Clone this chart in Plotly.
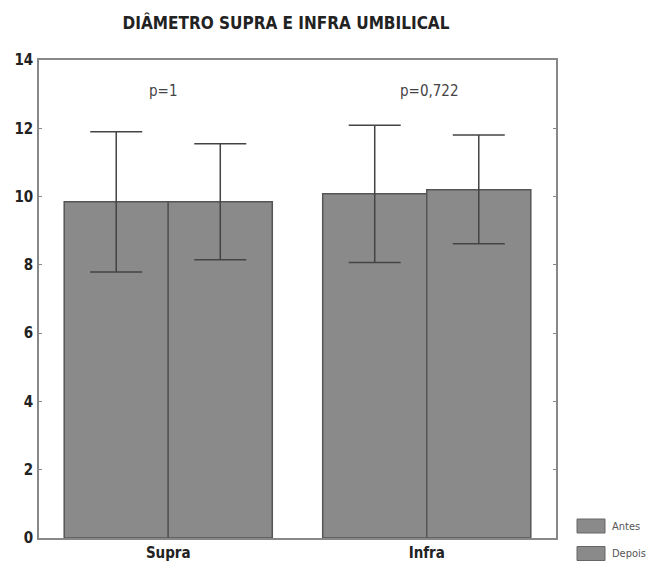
import plotly.graph_objects as go

categories = ["Supra", "Infra"]
series_names = ["Antes", "Depois"]
antes_mean = [9.85, 10.08]
antes_err_plus = [2.05, 2.01]
antes_err_minus = [2.06, 2.01]
depois_mean = [9.85, 10.20]
depois_err_plus = [1.70, 1.60]
depois_err_minus = [1.70, 1.58]
p_labels = ["p=1", "p=0,722"]
y_ticks = [0, 2, 4, 6, 8, 10, 12, 14]

FONT = "Liberation Sans Narrow, DejaVu Sans Condensed, Arial Narrow, sans-serif"
BAR_FILL = "#8a8a8a"
BAR_LINE = "#555555"
ERR_COLOR = "#444444"

# page body has an 8px margin; figure is sized/offset to compensate
OFF = 8
W, H = 658 - OFF, 569 - OFF
PL, PR, PT, PB = 39 - OFF, 556 - OFF, 60 - OFF, 538 - OFF  # plot area in figure px
PW, PH = PR - PL, PB - PT

fig = go.Figure()
for name, mean, ep, em in [
    ("Antes", antes_mean, antes_err_plus, antes_err_minus),
    ("Depois", depois_mean, depois_err_plus, depois_err_minus),
]:
    fig.add_trace(go.Bar(
        x=categories, y=mean, name=name,
        marker=dict(color=BAR_FILL, line=dict(color=BAR_LINE, width=1.5)),
        error_y=dict(type="data", array=ep, arrayminus=em, symmetric=False,
                     color=ERR_COLOR, thickness=1.5, width=26),
        showlegend=False,
    ))

annotations = []
for cat, lab in zip(categories, p_labels):
    annotations.append(dict(x=cat, y=13.1, xref="x", yref="y", text=lab,
                            showarrow=False, xshift=-5 if lab == "p=1" else 3,
                            font=dict(family=FONT, size=15, color="#444444")))

# legend drawn as boxes + text (page px coordinates)
shapes = []
legend_rows = [(526, "Antes"), (553.5, "Depois")]
for ypx, name in legend_rows:
    yc = ypx - OFF
    y0 = (PB - (yc + 7)) / PH
    y1 = (PB - (yc - 7)) / PH
    x0 = (577 - OFF - PL) / PW
    x1 = (605 - OFF - PL) / PW
    shapes.append(dict(type="rect", xref="paper", yref="paper", x0=x0, x1=x1, y0=y0, y1=y1,
                       fillcolor=BAR_FILL, line=dict(color="#666666", width=1)))
    annotations.append(dict(x=(610 - OFF - PL) / PW, y=(PB - yc) / PH, xref="paper", yref="paper",
                            text=name, showarrow=False, xanchor="left", yanchor="middle",
                            font=dict(family=FONT, size=11, color="#555555")))

fig.update_layout(
    width=W, height=H,
    margin=dict(l=PL, r=W - PR, t=PT, b=H - PB),
    paper_bgcolor="white", plot_bgcolor="white",
    barmode="group", bargap=0.195, bargroupgap=0,
    title=dict(text="<b>DIÂMETRO SUPRA E INFRA UMBILICAL</b>", x=(286 - OFF) / W,
               xanchor="center", y=1 - (23 - OFF) / H, yanchor="middle",
               font=dict(family=FONT, size=17, color="#222222")),
    annotations=annotations,
    shapes=shapes,
    xaxis=dict(range=[-0.5, 1.5], showline=True, linecolor="#888888", linewidth=1.5,
               mirror=True, ticks="", showgrid=False, automargin=False,
               tickfont=dict(family=FONT, size=15, color="#222222", weight="bold")),
    yaxis=dict(range=[0, 14], tickvals=y_ticks, showline=True, linecolor="#888888", linewidth=1.5,
               mirror="ticks", ticks="inside", ticklen=3, tickcolor="#888888", showgrid=False,
               zeroline=False, automargin=False, ticklabelstandoff=1,
               tickfont=dict(family=FONT, size=15, color="#222222", weight="bold")),
)

fig.write_html("out.html")
